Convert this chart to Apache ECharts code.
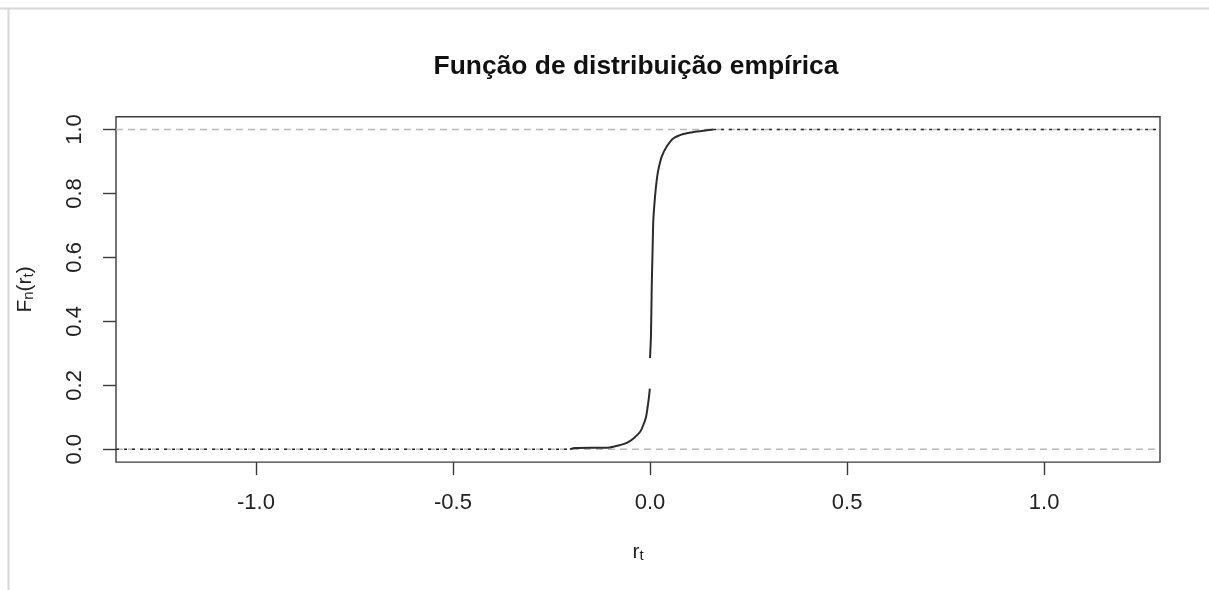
<!DOCTYPE html>
<html><head><meta charset="utf-8">
<script src="https://cdn.jsdelivr.net/npm/echarts@6/dist/echarts.min.js"></script>
<style>html,body{margin:0;padding:0;background:#fff;}#c{width:1209px;height:590px;}</style>
</head><body><div id="c"></div>
<script>
const titleText = 'Função de distribuição empírica';
const xTicks = [-1.0, -0.5, 0.0, 0.5, 1.0];
const yTicks = [0.0, 0.2, 0.4, 0.6, 0.8, 1.0];
const xRange = [-1.355, 1.294];
const yRange = [-0.04, 1.04];
const refLevels = [0, 1];
const lowerX = [-0.203, -0.190, -0.102, -0.076, -0.059, -0.042, -0.025, -0.017, -0.010, -0.006, -0.003, -0.0005];
const lowerF = [0.000, 0.004, 0.006, 0.013, 0.020, 0.034, 0.055, 0.076, 0.102, 0.133, 0.160, 0.190];
const upperX = [0.000, 0.0025, 0.0043, 0.0069, 0.0084, 0.0127, 0.017, 0.021, 0.0297, 0.042, 0.059, 0.0845, 0.110, 0.144, 0.160];
const upperF = [0.285, 0.360, 0.504, 0.645, 0.717, 0.790, 0.842, 0.873, 0.915, 0.946, 0.972, 0.986, 0.992, 0.9975, 1.000];

const FONT = "'Liberation Sans', Arial, sans-serif";
const INK = '#2b2b2b';
const chart = echarts.init(document.getElementById('c'), null, {renderer: 'canvas'});

const zip = (xs, ys) => xs.map((x, i) => [x, ys[i]]);
const refSeries = refLevels.map(l => ({
  type: 'line', data: [[xRange[0], l], [xRange[1], l]], showSymbol: false, silent: true,
  lineStyle: {color: '#b8b8b8', width: 1.4, type: [7, 5]}, z: 1
}));
const tailSeries = [
  [[xRange[0], 0], [lowerX[0], 0]],
  [[upperX[upperX.length - 1], 1], [xRange[1], 1]]
].map(d => ({
  type: 'line', data: d, showSymbol: false, silent: true,
  lineStyle: {color: INK, width: 1.6, type: [3, 5]}, z: 2
}));
const curveSeries = [zip(lowerX, lowerF), zip(upperX, upperF)].map(d => ({
  type: 'line', data: d, showSymbol: false, silent: true, smooth: 0.25,
  lineStyle: {color: INK, width: 2}, z: 3
}));
const nameRich = {
  a: {fontSize: 21, color: '#222', fontFamily: FONT, verticalAlign: 'bottom', lineHeight: 26},
  s: {fontSize: 15, color: '#222', fontFamily: FONT, verticalAlign: 'bottom', lineHeight: 18}
};

chart.setOption({
  animation: false,
  backgroundColor: '#fff',
  textStyle: {fontFamily: FONT},
  title: {
    text: titleText, left: 631, top: 49, textAlign: 'center',
    textStyle: {fontFamily: FONT, fontSize: 26.4, fontWeight: 'bold', color: '#111'}
  },
  graphic: [
    {type: 'line', shape: {x1: 0, y1: 8.5, x2: 1209, y2: 8.5}, style: {stroke: '#d8d8d8', lineWidth: 2}, silent: true},
    {type: 'line', shape: {x1: 8.5, y1: 8.5, x2: 8.5, y2: 590}, style: {stroke: '#d8d8d8', lineWidth: 2}, silent: true}
  ],
  grid: {left: 116, right: 49, top: 116.7, bottom: 127.9, show: true, borderColor: '#3a3a3a', borderWidth: 1.4, backgroundColor: 'transparent'},
  xAxis: {
    type: 'value', min: xRange[0], max: xRange[1],
    axisLine: {show: false, onZero: false},
    axisTick: {show: true, inside: false, length: 13, customValues: xTicks, lineStyle: {color: '#3a3a3a', width: 1.4}},
    axisLabel: {customValues: xTicks, formatter: v => v.toFixed(1), fontSize: 22, color: '#222', margin: 30, fontFamily: FONT},
    splitLine: {show: false},
    name: '{a|r}{s|t}', nameLocation: 'middle', nameGap: 75,
    nameTextStyle: {rich: nameRich}
  },
  yAxis: {
    type: 'value', min: yRange[0], max: yRange[1],
    axisLine: {show: false, onZero: false},
    axisTick: {show: true, inside: false, length: 13, customValues: yTicks, lineStyle: {color: '#3a3a3a', width: 1.4}},
    axisLabel: {customValues: yTicks, formatter: v => v.toFixed(1), fontSize: 22, color: '#222', margin: 30, rotate: 90, fontFamily: FONT},
    splitLine: {show: false},
    name: '{a|F}{s|n}{a|(r}{s|t}{a|)}', nameLocation: 'middle', nameGap: 80, nameRotate: 90,
    nameTextStyle: {rich: nameRich}
  },
  series: [...refSeries, ...tailSeries, ...curveSeries]
});
</script></body></html>
